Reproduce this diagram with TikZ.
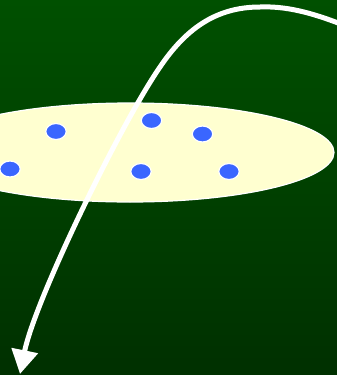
\documentclass[tikz,border=0pt]{standalone}
\usepackage{xcolor}
\usepackage{tikz}
\usetikzlibrary{arrows.meta, calc}

\definecolor{fieldtop}{RGB}{0,80,0}
\definecolor{fieldbottom}{RGB}{0,48,0}
\definecolor{setfill}{RGB}{255,255,208}
\definecolor{dotblue}{RGB}{58,102,255}

\begin{document}
\begin{tikzpicture}[x=1pt, y=-1pt,
    dot/.style={fill=dotblue, draw=white, line width=1.2pt},
    path line/.style={draw=white, line width=5pt,
      -{Triangle[width=26pt, length=24pt]}}]
    % Frame and background
    \useasboundingbox (0,0) rectangle (337,375);
    \clip (0,0) rectangle (337,375);
    \shade[top color=fieldtop, bottom color=fieldbottom] (0,0) rectangle (337,375);

    % The set (ellipse)
    \coordinate (C) at (130,152.5);
    \def\rx{204}
    \def\ry{49.5}
    \draw[fill=setfill, draw=white, line width=1.2pt] (C) ellipse [x radius=\rx, y radius=\ry];

    % Points of the set
    \foreach \name/\px/\py in {p1/56/131.5, p2/151.5/120.5, p3/202.5/134,
                               p4/10/169, p5/141/171.5, p6/229/171.5} {
        \coordinate (\name) at (\px,\py);
        \draw[dot] (\name) ellipse [x radius=10.2, y radius=8];
    }

    % Trajectory
    \coordinate (S) at (342,24.5);
    \coordinate (T) at (260,7);
    \coordinate (U) at (160,67);
    \coordinate (E) at (20,374);
    \draw[path line] (S) .. controls (310,12) and (285,6) .. (T)
        .. controls (215,7) and (185,30) .. (U)
        .. controls (120,125) and (35,300) .. (E);
\end{tikzpicture}
\end{document}
